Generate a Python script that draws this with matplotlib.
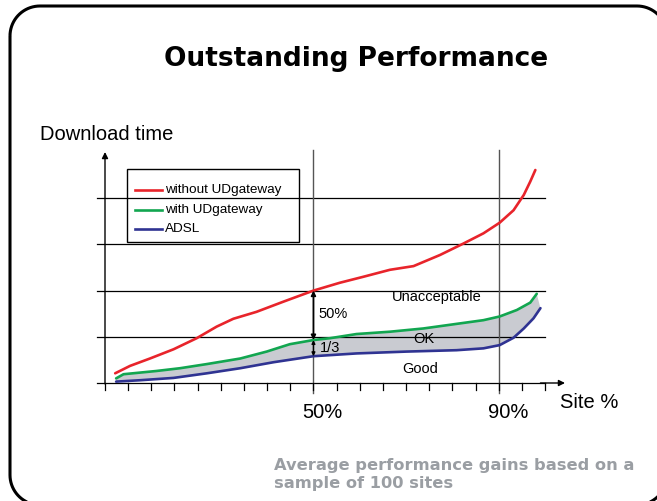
import numpy as np
import matplotlib
matplotlib.use("Agg")
import matplotlib.pyplot as plt
from matplotlib.patches import Rectangle, Polygon

W, H = 657, 501

# site % vs download time (grid units)
red_x = [7.2, 10.4, 14.7, 19.8, 24.8, 29.1, 32.7, 37.7, 43.5, 50.0, 55.7, 60.8,
         66.5, 71.6, 77.3, 82.4, 86.7, 90.2, 93.2, 95.4, 96.8, 97.9]
red_y = [0.21, 0.37, 0.53, 0.73, 0.97, 1.22, 1.39, 1.54, 1.76, 2.00, 2.17, 2.30,
         2.45, 2.53, 2.77, 3.02, 3.24, 3.47, 3.74, 4.07, 4.36, 4.61]
green_x = [7.4, 9.0, 16.1, 21.2, 27.0, 34.2, 39.9, 44.9, 50.0, 53.6, 59.3, 66.5,
           73.7, 80.9, 86.7, 90.2, 93.9, 96.8, 98.2]
green_y = [0.10, 0.19, 0.26, 0.32, 0.41, 0.53, 0.68, 0.84, 0.93, 0.97, 1.06, 1.11,
           1.18, 1.28, 1.36, 1.44, 1.58, 1.74, 1.93]
blue_x = [7.4, 12.6, 19.8, 27.0, 34.2, 41.4, 50.0, 59.3, 70.1, 80.9, 86.7, 90.2,
          93.2, 95.4, 97.5, 99.0]
blue_y = [0.03, 0.06, 0.11, 0.21, 0.32, 0.45, 0.58, 0.64, 0.68, 0.71, 0.75, 0.82,
          0.98, 1.18, 1.40, 1.62]

series = ["without UDgateway", "with UDgateway", "ADSL"]
colors = ["#e8242b", "#12a650", "#2f3392"]
grid_y = [0, 1, 2, 3, 4]
marks = [50, 90]
mark_labels = ["50%", "90%"]
ticks = list(range(5, 101, 5))

plt.rcParams['font.family'] = ['Liberation Sans', 'DejaVu Sans']
fig = plt.figure(figsize=(W / 100, H / 100), dpi=100)

# pixel-space background axes, y counted from the top edge
bg = fig.add_axes([0, 0, 1, 1], zorder=0)
bg.set_xlim(0, W)
bg.set_ylim(H, 0)
bg.axis("off")

# rounded frame outline (runs off the right/bottom edges)
x0, x1, y0, y1, r = 10, 667, 6, 505, 30
th = np.linspace(0, np.pi / 2, 20)
fx = np.concatenate([x0 + r - r * np.cos(th), x1 - r + r * np.sin(th),
                     x1 - r + r * np.cos(th), x0 + r - r * np.sin(th)])
fy = np.concatenate([y0 + r - r * np.sin(th), y0 + r - r * np.cos(th),
                     y1 - r + r * np.sin(th), y1 - r + r * np.cos(th)])
bg.add_patch(Polygon(np.column_stack([fx, fy]), closed=True, fill=False,
                     ec="black", lw=2.2, joinstyle="round"))

ax = fig.add_axes([105 / W, 1 - 383 / H, (565 - 105) / W, (383 - 152) / H],
                  zorder=1)
ax.set_xlim(5, 104.3)
ax.set_ylim(0, 5)
ax.axis("off")
ax.patch.set_alpha(0)

for gy in grid_y:
    ax.plot([3.27, 100], [gy, gy], color="black", lw=0.9, clip_on=False)
for m in marks:
    ax.plot([m, m], [-0.22, 5.04], color="#555555", lw=1.0, clip_on=False)
for t in ticks:
    ax.plot([t, t], [0, -0.15], color="black", lw=0.9, clip_on=False)

ax.annotate("", xy=(5, 5.0), xytext=(5, -0.02), annotation_clip=False,
            arrowprops=dict(arrowstyle="-|>", lw=1.0, color="black",
                            mutation_scale=9, shrinkA=0, shrinkB=0))
ax.annotate("", xy=(104.3, 0), xytext=(99, 0), annotation_clip=False,
            arrowprops=dict(arrowstyle="-|>", lw=1.0, color="black",
                            mutation_scale=9, shrinkA=0, shrinkB=0))

ax.fill(np.concatenate([green_x, blue_x[::-1]]),
        np.concatenate([green_y, blue_y[::-1]]),
        color="#c9cbd1", lw=0, zorder=1)
for xs, ys, c in zip([red_x, green_x, blue_x], [red_y, green_y, blue_y], colors):
    ax.plot(xs, ys, color=c, lw=1.9, zorder=3, clip_on=False,
            solid_joinstyle="round", solid_capstyle="round")

# difference arrows
ax.annotate("", xy=(50, red_y[9]), xytext=(50, green_y[8]),
            arrowprops=dict(arrowstyle="<|-|>", lw=1.2, color="black",
                            mutation_scale=7, shrinkA=0, shrinkB=0), zorder=4)
ax.annotate("", xy=(50, green_y[8]), xytext=(50, blue_y[6]),
            arrowprops=dict(arrowstyle="<|-|>", lw=1.0, color="black",
                            mutation_scale=5, shrinkA=0, shrinkB=0), zorder=4)

ax.text(51, 1.5, "50%", fontsize=10.5, va="center", ha="left")
ax.text(51.3, 0.76, "1/3", fontsize=10.5, va="center", ha="left")
ax.text(76.7, 1.87, "Unacceptable", fontsize=10.5, ha="center", va="center")
ax.text(73.9, 0.95, "OK", fontsize=10.5, ha="center", va="center")
ax.text(73.0, 0.30, "Good", fontsize=10.5, ha="center", va="center")

# legend box
bg.add_patch(Rectangle((127, 169), 172, 73, fill=True, fc="white",
                       ec="black", lw=1.0, zorder=2))
for i, (name, c) in enumerate(zip(series, colors)):
    yy = 190 + i * 19.7
    bg.plot([135, 162], [yy, yy], color=c, lw=1.9, zorder=3)
    bg.text(165, yy, name, fontsize=9.7, va="center", ha="left", zorder=3)

bg.text(356, 66, "Outstanding Performance", fontsize=19, fontweight="bold",
        family="DejaVu Sans", ha="center", va="baseline")
bg.text(40, 134, "Download time", fontsize=14.5, ha="left", va="center")
bg.text(560, 402, "Site %", fontsize=14.5, ha="left", va="center")
for m, lab in zip(marks, mark_labels):
    px = 105 + (m - 5) * 4.632 + 9
    bg.text(px, 413, lab, fontsize=14.5, ha="center", va="center")

bg.text(274, 470, "Average performance gains based on a", fontsize=11.7,
        fontweight="bold", family="DejaVu Sans", color="#9a9ea3",
        ha="left", va="baseline")
bg.text(274, 488, "sample of 100 sites", fontsize=11.7,
        fontweight="bold", family="DejaVu Sans", color="#9a9ea3",
        ha="left", va="baseline")

fig.savefig("out.png", dpi=100)
